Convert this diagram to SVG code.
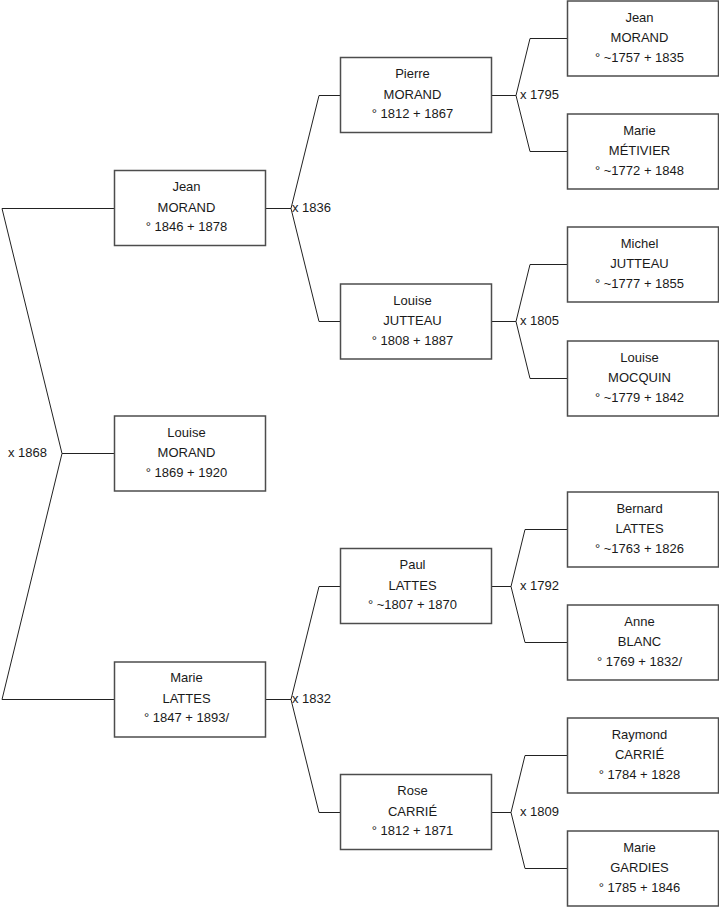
<svg xmlns="http://www.w3.org/2000/svg" width="719" height="908" viewBox="0 0 719 908">
<style>
.box rect{fill:#fff;stroke:#4d4d4d;stroke-width:1.5}
.box text,.lbl{font-family:"Liberation Sans",Arial,sans-serif;font-size:13px;fill:#1a1a1a}
.box text{text-anchor:middle}
.con path{fill:none;stroke:#222;stroke-width:1}
</style>
<rect width="719" height="908" fill="#fff"/>
<g id="connectors" class="con">
<path d="M114,208.5 H2 L62,453.5 L2,699.5 H114 M62,453.5 H114"/>
<path d="M265.5,208.5 H291 M340,95.5 H319 L291,208.5 L319,321.5 H340"/>
<path d="M265.5,699.5 H291 M340,586.5 H319 L291,699.5 L319,812.5 H340"/>
<path d="M492,95.5 H516 M567,38.5 H530 L516,95.5 L530,151.5 H567"/>
<path d="M492,321.5 H516 M567,264.5 H530 L516,321.5 L530,378.5 H567"/>
<path d="M492,586.5 H511 M567,529.5 H525 L511,586.5 L525,642.5 H567"/>
<path d="M492,812.5 H511 M567,755.5 H525 L511,812.5 L525,868.5 H567"/>
</g>
<g id="labels">
<text class="lbl" x="8" y="457">x 1868</text>
<text class="lbl" x="292" y="212">x 1836</text>
<text class="lbl" x="292" y="703">x 1832</text>
<text class="lbl" x="520" y="99">x 1795</text>
<text class="lbl" x="520" y="325">x 1805</text>
<text class="lbl" x="520" y="590">x 1792</text>
<text class="lbl" x="520" y="816">x 1809</text>
</g>
<g id="jean-morand-1846" class="box"><rect x="114.5" y="170.5" width="151" height="75"/><text x="186.5" y="191">Jean</text><text x="186.5" y="211.5">MORAND</text><text x="186.5" y="231">° 1846 + 1878</text></g>
<g id="louise-morand-1869" class="box"><rect x="114.5" y="416" width="151" height="75"/><text x="186.5" y="436.5">Louise</text><text x="186.5" y="457">MORAND</text><text x="186.5" y="476.5">° 1869 + 1920</text></g>
<g id="marie-lattes-1847" class="box"><rect x="114.5" y="662" width="151" height="75"/><text x="186.5" y="682">Marie</text><text x="186.5" y="702.5">LATTES</text><text x="186.5" y="722">° 1847 + 1893/</text></g>
<g id="pierre-morand" class="box"><rect x="340.5" y="57.5" width="151" height="75"/><text x="412.5" y="78">Pierre</text><text x="412.5" y="98.5">MORAND</text><text x="412.5" y="118">° 1812 + 1867</text></g>
<g id="louise-jutteau" class="box"><rect x="340.5" y="284" width="151" height="75"/><text x="412.5" y="304.5">Louise</text><text x="412.5" y="325">JUTTEAU</text><text x="412.5" y="344.5">° 1808 + 1887</text></g>
<g id="paul-lattes" class="box"><rect x="340.5" y="548.5" width="151" height="75"/><text x="412.5" y="569">Paul</text><text x="412.5" y="589.5">LATTES</text><text x="412.5" y="609">° ~1807 + 1870</text></g>
<g id="rose-carrie" class="box"><rect x="340.5" y="774.5" width="151" height="75"/><text x="412.5" y="795">Rose</text><text x="412.5" y="815.5">CARRIÉ</text><text x="412.5" y="835">° 1812 + 1871</text></g>
<g id="jean-morand-1757" class="box"><rect x="567.5" y="1" width="151" height="75"/><text x="639.5" y="21.5">Jean</text><text x="639.5" y="42">MORAND</text><text x="639.5" y="61.5">° ~1757 + 1835</text></g>
<g id="marie-metivier" class="box"><rect x="567.5" y="114" width="151" height="75"/><text x="639.5" y="134.5">Marie</text><text x="639.5" y="155">MÉTIVIER</text><text x="639.5" y="174.5">° ~1772 + 1848</text></g>
<g id="michel-jutteau" class="box"><rect x="567.5" y="227" width="151" height="75"/><text x="639.5" y="247.5">Michel</text><text x="639.5" y="268">JUTTEAU</text><text x="639.5" y="287.5">° ~1777 + 1855</text></g>
<g id="louise-mocquin" class="box"><rect x="567.5" y="341" width="151" height="75"/><text x="639.5" y="361.5">Louise</text><text x="639.5" y="382">MOCQUIN</text><text x="639.5" y="401.5">° ~1779 + 1842</text></g>
<g id="bernard-lattes" class="box"><rect x="567.5" y="492" width="151" height="75"/><text x="639.5" y="512.5">Bernard</text><text x="639.5" y="533">LATTES</text><text x="639.5" y="552.5">° ~1763 + 1826</text></g>
<g id="anne-blanc" class="box"><rect x="567.5" y="605" width="151" height="75"/><text x="639.5" y="625.5">Anne</text><text x="639.5" y="646">BLANC</text><text x="639.5" y="665.5">° 1769 + 1832/</text></g>
<g id="raymond-carrie" class="box"><rect x="567.5" y="718" width="151" height="75"/><text x="639.5" y="738.5">Raymond</text><text x="639.5" y="759">CARRIÉ</text><text x="639.5" y="778.5">° 1784 + 1828</text></g>
<g id="marie-gardies" class="box"><rect x="567.5" y="831" width="151" height="75"/><text x="639.5" y="851.5">Marie</text><text x="639.5" y="872">GARDIES</text><text x="639.5" y="891.5">° 1785 + 1846</text></g>
</svg>
